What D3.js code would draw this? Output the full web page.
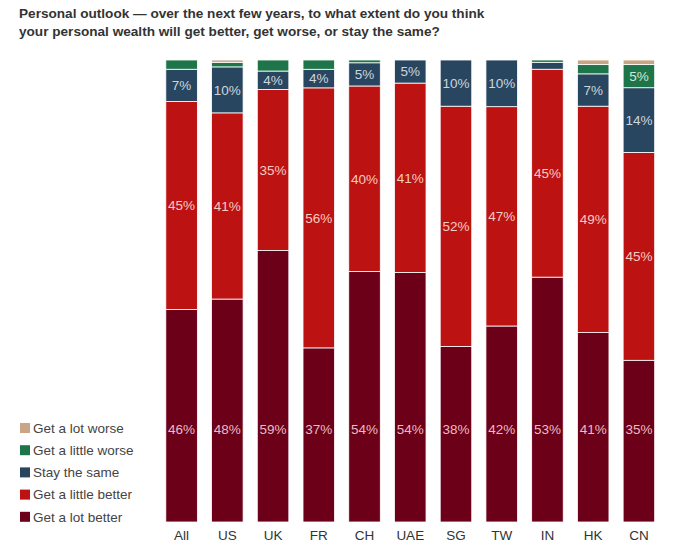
<!DOCTYPE html>
<html><head><meta charset="utf-8">
<script src="https://cdn.jsdelivr.net/npm/d3@7"></script>
<style>body{margin:0;background:#fff;font-family:"Liberation Sans",Arial,sans-serif;}</style>
</head><body>
<svg id="c" width="700" height="555"></svg>
<script>
const categories = ["All","US","UK","FR","CH","UAE","SG","TW","IN","HK","CN"];
const seriesNames = ["Get a lot better","Get a little better","Stay the same","Get a little worse","Get a lot worse"];
const lotBetter    = [46, 48.5, 59, 37.5, 54, 54, 38, 42, 53, 41, 35];
const littleBetter = [45, 40.5, 35, 56, 40, 41, 52, 47, 45, 49, 45];
const staySame     = [7, 10, 4, 4, 5, 5, 10, 10, 1.5, 7, 14];
const littleWorse  = [2, 1, 2.4, 2, 0.6, 0, 0, 0, 0.5, 2, 5];
const lotWorse     = [0, 0.5, 0, 0, 0, 0, 0, 0, 0, 1, 1];
const labelsLotBetter    = ["46%","48%","59%","37%","54%","54%","38%","42%","53%","41%","35%"];
const labelsLittleBetter = ["45%","41%","35%","56%","40%","41%","52%","47%","45%","49%","45%"];
const labelsSame         = ["7%","10%","4%","4%","5%","5%","10%","10%","","7%","14%"];
const labelsLittleWorse  = ["","","","","","","","","","","5%"];
const colors = ["#6c0019","#bd1212","#284660","#1e7549","#c9a585"];
const textColors = ["#eabcc2","#f6cbc0","#cdd6de","#d3e6d7","#fff"];

const seriesValues = [lotBetter, littleBetter, staySame, littleWorse, lotWorse];
const seriesLabels = [labelsLotBetter, labelsLittleBetter, labelsSame, labelsLittleWorse, categories.map(()=> "")];
const rows = categories.map((c,i)=>{const o={cat:c}; seriesNames.forEach((s,k)=>o[s]=seriesValues[k][i]); return o;});
const stack = d3.stack().keys(seriesNames).offset(d3.stackOffsetExpand)(rows);

const svg = d3.select("#c");
const x = d3.scaleBand().domain(categories).range([158.5, 662]).paddingInner(0.31).paddingOuter(0.16);
const y = d3.scaleLinear().domain([0,1]).range([522, 60]);

svg.append("text").attr("x",19).attr("y",18).attr("font-size",13.6).attr("font-weight","bold").attr("fill","#333")
  .text("Personal outlook \u2014 over the next few years, to what extent do you think");
svg.append("text").attr("x",19).attr("y",36).attr("font-size",13.6).attr("font-weight","bold").attr("fill","#333")
  .text("your personal wealth will get better, get worse, or stay the same?");

stack.forEach((layer,k)=>{
  const g = svg.append("g");
  g.selectAll("rect").data(layer).join("rect")
    .attr("x", d=>x(d.data.cat)).attr("width", x.bandwidth())
    .attr("y", d=>y(d[1])).attr("height", d=>Math.max(0,y(d[0])-y(d[1])))
    .attr("fill", colors[k]).attr("stroke","#fff").attr("stroke-width",0.8);
  g.selectAll("text").data(layer).join("text")
    .attr("x", d=>x(d.data.cat)+x.bandwidth()/2)
    .attr("y", (d,i)=> k===0 ? 429 : (y(d[0])+y(d[1]))/2)
    .attr("dy","0.36em").attr("text-anchor","middle").attr("font-size",13.5)
    .attr("fill", textColors[k])
    .text((d,i)=>seriesLabels[k][i]);
});

const xAxis = svg.append("g").attr("transform","translate(0,522)").call(d3.axisBottom(x).tickSize(0).tickPadding(8));
xAxis.select(".domain").remove();
xAxis.selectAll("text").attr("font-size",13.5).attr("fill","#333").attr("font-family","Liberation Sans, Arial, sans-serif");

const legendOrder = [4,3,2,1,0];
const leg = svg.append("g");
legendOrder.forEach((k,i)=>{
  const yy = 428 + i*22.2;
  leg.append("rect").attr("x",20).attr("y",yy-5).attr("width",10).attr("height",10).attr("fill",colors[k]);
  leg.append("text").attr("x",33).attr("y",yy).attr("dy","0.36em").attr("font-size",13.5).attr("fill","#444").text(seriesNames[k]);
});
</script>
</body></html>
